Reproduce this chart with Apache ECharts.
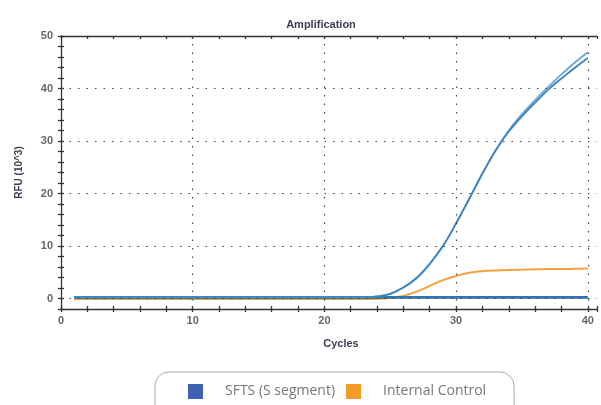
<!DOCTYPE html>
<html>
<head>
<meta charset="utf-8">
<script src="https://cdn.jsdelivr.net/npm/echarts@6/dist/echarts.min.js"></script>
<style>
html,body{margin:0;padding:0;background:#fff;}
#chart{width:601px;height:405px;}
</style>
</head>
<body>
<div id="chart"></div>
<script>
var cycles = [1,2,3,4,5,6,7,8,9,10,11,12,13,14,15,16,17,18,19,20,21,22,23,24,25,26,27,28,29,30,31,32,33,34,35,36,37,38,39,40];
var sftsUpper = [0.2,0.2,0.2,0.2,0.2,0.2,0.2,0.2,0.2,0.2,0.2,0.2,0.2,0.2,0.2,0.2,0.2,0.2,0.2,0.2,0.2,0.2,0.2,0.4,0.9,2.1,3.9,6.6,10.0,14.3,19.0,23.8,28.2,32.0,35.1,37.8,40.3,42.7,44.9,46.9];
var sftsLower = [0.2,0.2,0.2,0.2,0.2,0.2,0.2,0.2,0.2,0.2,0.2,0.2,0.2,0.2,0.2,0.2,0.2,0.2,0.2,0.2,0.2,0.2,0.2,0.4,0.9,2.1,3.9,6.6,10.0,14.3,19.0,23.8,28.2,31.8,34.7,37.3,39.8,41.9,43.9,45.8];
var sftsFlat1 = [0.15,0.15,0.15,0.15,0.15,0.15,0.15,0.15,0.15,0.15,0.15,0.15,0.15,0.15,0.15,0.15,0.15,0.15,0.15,0.15,0.15,0.15,0.15,0.15,0.15,0.15,0.15,0.15,0.15,0.15,0.15,0.15,0.15,0.15,0.15,0.15,0.15,0.15,0.15,0.15];
var sftsFlat2 = [0.3,0.3,0.3,0.3,0.3,0.3,0.3,0.3,0.3,0.3,0.3,0.3,0.3,0.3,0.3,0.3,0.3,0.3,0.3,0.3,0.3,0.3,0.3,0.3,0.3,0.3,0.3,0.3,0.3,0.3,0.3,0.3,0.3,0.3,0.3,0.3,0.3,0.3,0.3,0.3];
var internalControl = [-0.1,-0.1,-0.1,-0.1,-0.1,-0.1,-0.1,-0.1,-0.1,-0.1,-0.1,-0.1,-0.1,-0.1,-0.1,-0.1,-0.1,-0.1,-0.1,-0.1,-0.1,-0.1,-0.1,-0.05,0.1,0.5,1.3,2.4,3.5,4.3,4.9,5.2,5.35,5.45,5.5,5.55,5.6,5.6,5.65,5.7];
var yGridValues = [0,10,20,30,40];
var xGridValues = [10,20,30,40];
var titleText = 'Amplification';
var yName = 'RFU (10^3)';
var xName = 'Cycles';
var legendNames = ['SFTS (S segment)','Internal Control'];

function pairs(vals){ return cycles.map(function(c,i){ return [c, vals[i]]; }); }

var chart = echarts.init(document.getElementById('chart'), null, {renderer:'canvas'});
var labelFont = {color:'#666', fontWeight:'bold', fontSize:11, fontFamily:'Liberation Sans, Arial, sans-serif'};
var axisLineStyle = {color:'#333', width:1.3};
var gridLineStyle = {type:[1.5,7], color:'#444', width:1.2};

var markData = yGridValues.map(function(v){ return {yAxis:v}; })
  .concat(xGridValues.map(function(v){ return {xAxis:v}; }));

var option = {
  animation:false,
  backgroundColor:'#fff',
  title:{
    text:titleText, left:316, top:14, textAlign:'center',
    textStyle:{fontSize:11, fontWeight:'bold', color:'#3a4050', fontFamily:'Liberation Sans, Arial, sans-serif'}
  },
  grid:{left:61, right:4, top:36, bottom:96, containLabel:false},
  legend:{
    left:155, top:372,
    padding:[12,28,25,33],
    borderColor:'#aaa', borderWidth:1, borderRadius:14,
    icon:'rect', itemWidth:15, itemHeight:15, itemGap:11,
    selectedMode:false,
    textStyle:{color:'#777', fontSize:14, fontFamily:'Open Sans, sans-serif', padding:[0,0,0,17]},
    data:[
      {name:legendNames[0], itemStyle:{color:'#3d62b3'}},
      {name:legendNames[1], itemStyle:{color:'#f39c26'}}
    ]
  },
  xAxis:[
    {type:'value', position:'bottom', min:0, max:40.7, interval:2,
     axisLine:{show:true, onZero:false, lineStyle:axisLineStyle},
     axisTick:{show:true, inside:false, length:3, lineStyle:axisLineStyle},
     axisLabel:Object.assign({margin:6, formatter:function(v){ return (v%10===0)? String(v):''; }}, labelFont),
     splitLine:{show:false},
     name:xName, nameLocation:'middle', nameGap:29,
     nameTextStyle:{fontSize:11, fontWeight:'bold', color:'#3a4050', fontFamily:'Liberation Sans, Arial, sans-serif', padding:[0,0,0,24]}
    },
    {type:'value', position:'bottom', min:0, max:40.7, interval:2,
     axisLine:{show:false, onZero:false},
     axisTick:{show:true, inside:true, length:3, lineStyle:axisLineStyle},
     axisLabel:{show:false}, splitLine:{show:false}
    },
    {type:'value', position:'top', min:0, max:40.7, interval:2,
     axisLine:{show:true, onZero:false, lineStyle:axisLineStyle},
     axisTick:{show:true, inside:true, length:3, lineStyle:axisLineStyle},
     axisLabel:{show:false}, splitLine:{show:false}
    }
  ],
  yAxis:[
    {type:'value', position:'left', min:-2, max:50, interval:2,
     axisLine:{show:true, onZero:false, lineStyle:axisLineStyle},
     axisTick:{show:true, inside:false, length:3, lineStyle:axisLineStyle},
     axisLabel:Object.assign({margin:8, formatter:function(v){ return (v%10===0)? String(v):''; }}, labelFont),
     splitLine:{show:false},
     name:yName, nameLocation:'middle', nameGap:37, nameRotate:90,
     nameTextStyle:{fontSize:10, fontWeight:'bold', color:'#3a4050', fontFamily:'Liberation Sans, Arial, sans-serif'}
    },
    {type:'value', position:'left', min:-2, max:50, interval:2,
     axisLine:{show:false, onZero:false},
     axisTick:{show:true, inside:true, length:3, lineStyle:axisLineStyle},
     axisLabel:{show:false}, splitLine:{show:false}
    }
  ],
  series:[
    {name:'grid', type:'line', data:[], silent:true, z:1,
     markLine:{silent:true, symbol:['none','none'], label:{show:false}, lineStyle:gridLineStyle, animation:false, data:markData}
    },
    {name:legendNames[1], type:'line', data:pairs(internalControl), showSymbol:false, smooth:0.4, z:2,
     lineStyle:{color:'#f4a23c', width:2}, itemStyle:{color:'#f4a23c'}},
    {name:legendNames[0], type:'line', data:pairs(sftsFlat1), showSymbol:false, z:3,
     lineStyle:{color:'#2a6eaa', width:2}, itemStyle:{color:'#2a6eaa'}},
    {name:legendNames[0], type:'line', data:pairs(sftsFlat2), showSymbol:false, z:3,
     lineStyle:{color:'#2f74b0', width:2}, itemStyle:{color:'#2f74b0'}},
    {name:legendNames[0], type:'line', data:pairs(sftsUpper), showSymbol:false, smooth:0.4, z:4,
     lineStyle:{color:'#6aa6d8', width:1.8}, itemStyle:{color:'#6aa6d8'}},
    {name:legendNames[0], type:'line', data:pairs(sftsLower), showSymbol:false, smooth:0.4, z:4,
     lineStyle:{color:'#3a85c2', width:1.8}, itemStyle:{color:'#3a85c2'}}
  ]
};
chart.setOption(option);
</script>
</body>
</html>
